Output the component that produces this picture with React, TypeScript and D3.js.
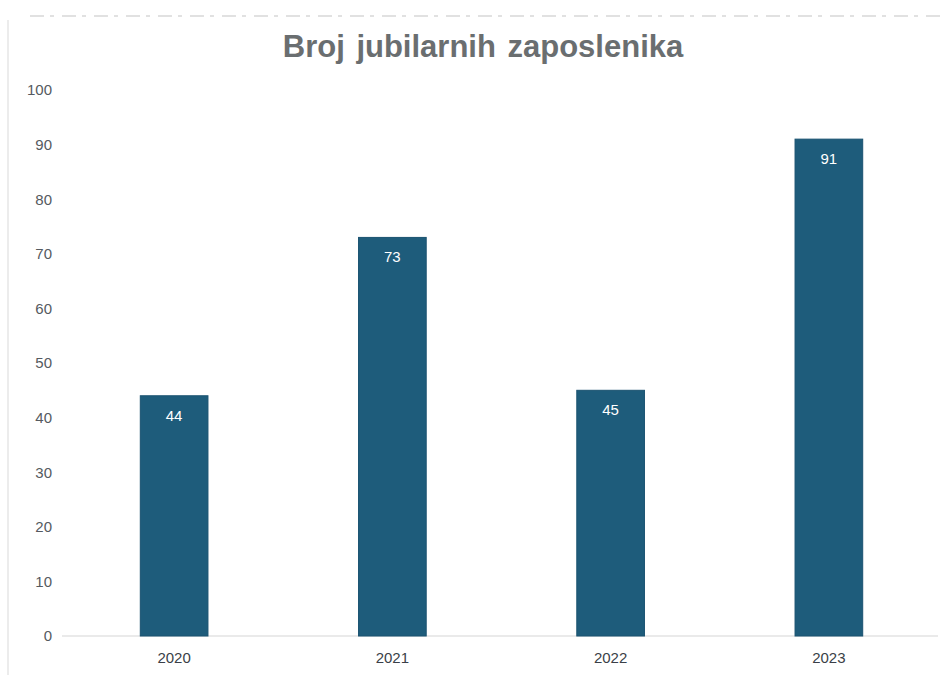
// App.tsx — bar chart "Broj jubilarnih zaposlenika"

import * as d3 from 'd3';
import { useRef, useEffect } from 'react';

// --- Data ---
const years = ["2020", "2021", "2022", "2023"];
const counts = [44, 73, 45, 91];
const yTicks = [0, 10, 20, 30, 40, 50, 60, 70, 80, 90, 100];

export default function App() {
  const ref = useRef<SVGSVGElement>(null);

  useEffect(() => {
    const width = 950;
    const height = 675;
    const margin = { top: 90, right: 12, bottom: 39, left: 65 };

    const data = years.map((y, i) => ({ year: y, value: counts[i] }));

    // --- Scales ---
    const x = d3.scaleBand()
      .domain(years)
      .range([margin.left, width - margin.right])
      .paddingInner(0.69)
      .paddingOuter(0.345);

    const y = d3.scaleLinear()
      .domain([0, 100])
      .range([height - margin.bottom, margin.top]);

    const svg = d3.select(ref.current)
      .attr("width", width)
      .attr("height", height)
      .attr("viewBox", `0 0 ${width} ${height}`)
      .style("font-family", "'Liberation Sans', Arial, sans-serif");

    svg.selectAll("*").remove();

    svg.append("rect")
      .attr("width", width)
      .attr("height", height)
      .attr("fill", "#ffffff");

    // faint frame remnants from the scan
    svg.append("line")
      .attr("x1", 8).attr("x2", 8)
      .attr("y1", 20).attr("y2", height)
      .attr("stroke", "#e6e6e6")
      .attr("stroke-width", 1.5);

    svg.append("line")
      .attr("x1", 30).attr("x2", width - 5)
      .attr("y1", 16).attr("y2", 16)
      .attr("stroke", "#d8d8d8")
      .attr("stroke-width", 1.5)
      .attr("stroke-dasharray", "14 6 4 8");

    // --- Title ---
    svg.append("text")
      .attr("x", 483)
      .attr("y", 57)
      .attr("text-anchor", "middle")
      .attr("font-family", "'Liberation Sans Narrow', 'Arial Narrow', 'Liberation Sans', sans-serif")
      .attr("font-weight", "bold")
      .attr("font-size", 31)
      .attr("fill", "#6a6e70")
      .attr("word-spacing", 3)
      .text("Broj jubilarnih zaposlenika");

    // --- Y axis ---
    svg.append("g")
      .attr("transform", `translate(${margin.left - 13},0)`)
      .call(d3.axisLeft(y).tickValues(yTicks).tickSize(0).tickPadding(0))
      .call(g => g.select(".domain").remove())
      .selectAll("text")
      .attr("font-size", 15)
      .attr("font-family", "'Liberation Sans', Arial, sans-serif")
      .attr("fill", "#555a60");

    // baseline
    svg.append("line")
      .attr("x1", 62)
      .attr("x2", width - 12)
      .attr("y1", y(0))
      .attr("y2", y(0))
      .attr("stroke", "#e3e3e3")
      .attr("stroke-width", 1.5);

    // --- Bars ---
    svg.selectAll("rect.bar")
      .data(data)
      .join("rect")
      .attr("class", "bar")
      .attr("x", d => x(d.year)!)
      .attr("y", d => y(d.value))
      .attr("width", x.bandwidth())
      .attr("height", d => y(0) - y(d.value))
      .attr("fill", "#1e5c7b")
      .attr("stroke", "#1a5270")
      .attr("stroke-width", 1);

    // value labels
    svg.selectAll("text.val")
      .data(data)
      .join("text")
      .attr("class", "val")
      .attr("x", d => x(d.year)! + x.bandwidth() / 2)
      .attr("y", d => y(d.value) + 25)
      .attr("text-anchor", "middle")
      .attr("font-size", 15)
      .attr("fill", "#ffffff")
      .text(d => d.value);

    // --- X axis ---
    svg.append("g")
      .attr("transform", `translate(0,${y(0) + 12})`)
      .call(d3.axisBottom(x).tickSize(0).tickPadding(0))
      .call(g => g.select(".domain").remove())
      .selectAll("text")
      .attr("dy", "1em")
      .attr("font-size", 15)
      .attr("font-family", "'Liberation Sans', Arial, sans-serif")
      .attr("fill", "#3a3f48");
  }, []);

  return (
    <div style={{ position: "absolute", left: 0, top: 0 }}>
      <svg ref={ref}></svg>
    </div>
  );
}
